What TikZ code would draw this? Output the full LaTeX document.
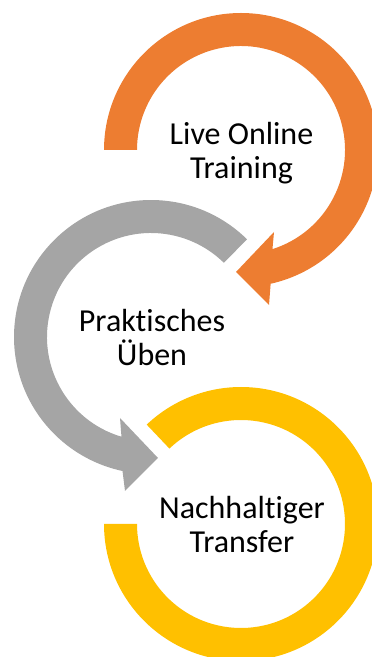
\documentclass[tikz,border=0pt]{standalone}
\usepackage{fontspec}
\usetikzlibrary{calc}
\setmainfont{Carlito}[Ligatures=CommonOff]
\definecolor{orangeA}{HTML}{ED7D31}
\definecolor{grayA}{HTML}{A5A5A5}
\definecolor{goldA}{HTML}{FFC000}
\tikzset{
  label text/.style={align=center,text=black,inner sep=0pt,font=\fontsize{32}{34.5}\selectfont}
}
\begin{document}
\begin{tikzpicture}[x=1pt,y=1pt]
\useasboundingbox (0,0) rectangle (372,657);
\clip (0,0) rectangle (372,657);
% orange: centre (241,507)
\fill[orangeA] (104,507) arc[start angle=180,end angle=-77.5,radius=137]
  -- (269,352) -- (236,385) -- (274,425) -- ($(241,507)+(-72.4:104)$)
  arc[start angle=-72.4,end angle=180,radius=104] -- cycle;
% gray: centre (151,320)
\fill[grayA] ($(151,320)+(45.5:137)$) arc[start angle=45.5,end angle=258,radius=137]
  -- (125,166) -- (158,199) -- (120,239) -- ($(151,320)+(253.5:104)$)
  arc[start angle=253.5,end angle=45.5,radius=104] -- cycle;
% gold: centre (241,133)
\fill[goldA] (104,133) arc[start angle=180,end angle=493.5,radius=137]
  -- ($(241,133)+(133.5:104)$)
  arc[start angle=493.5,end angle=180,radius=104] -- cycle;
\node[label text] (live) at (241.5,504) {Live Online\\Training};
\node[label text] (ueben) at (152,319.5) {Praktisches\\Üben};
\node[label text] (transfer) at (242,132.5) {Nachhaltiger\\Transfer};
\end{tikzpicture}
\end{document}
